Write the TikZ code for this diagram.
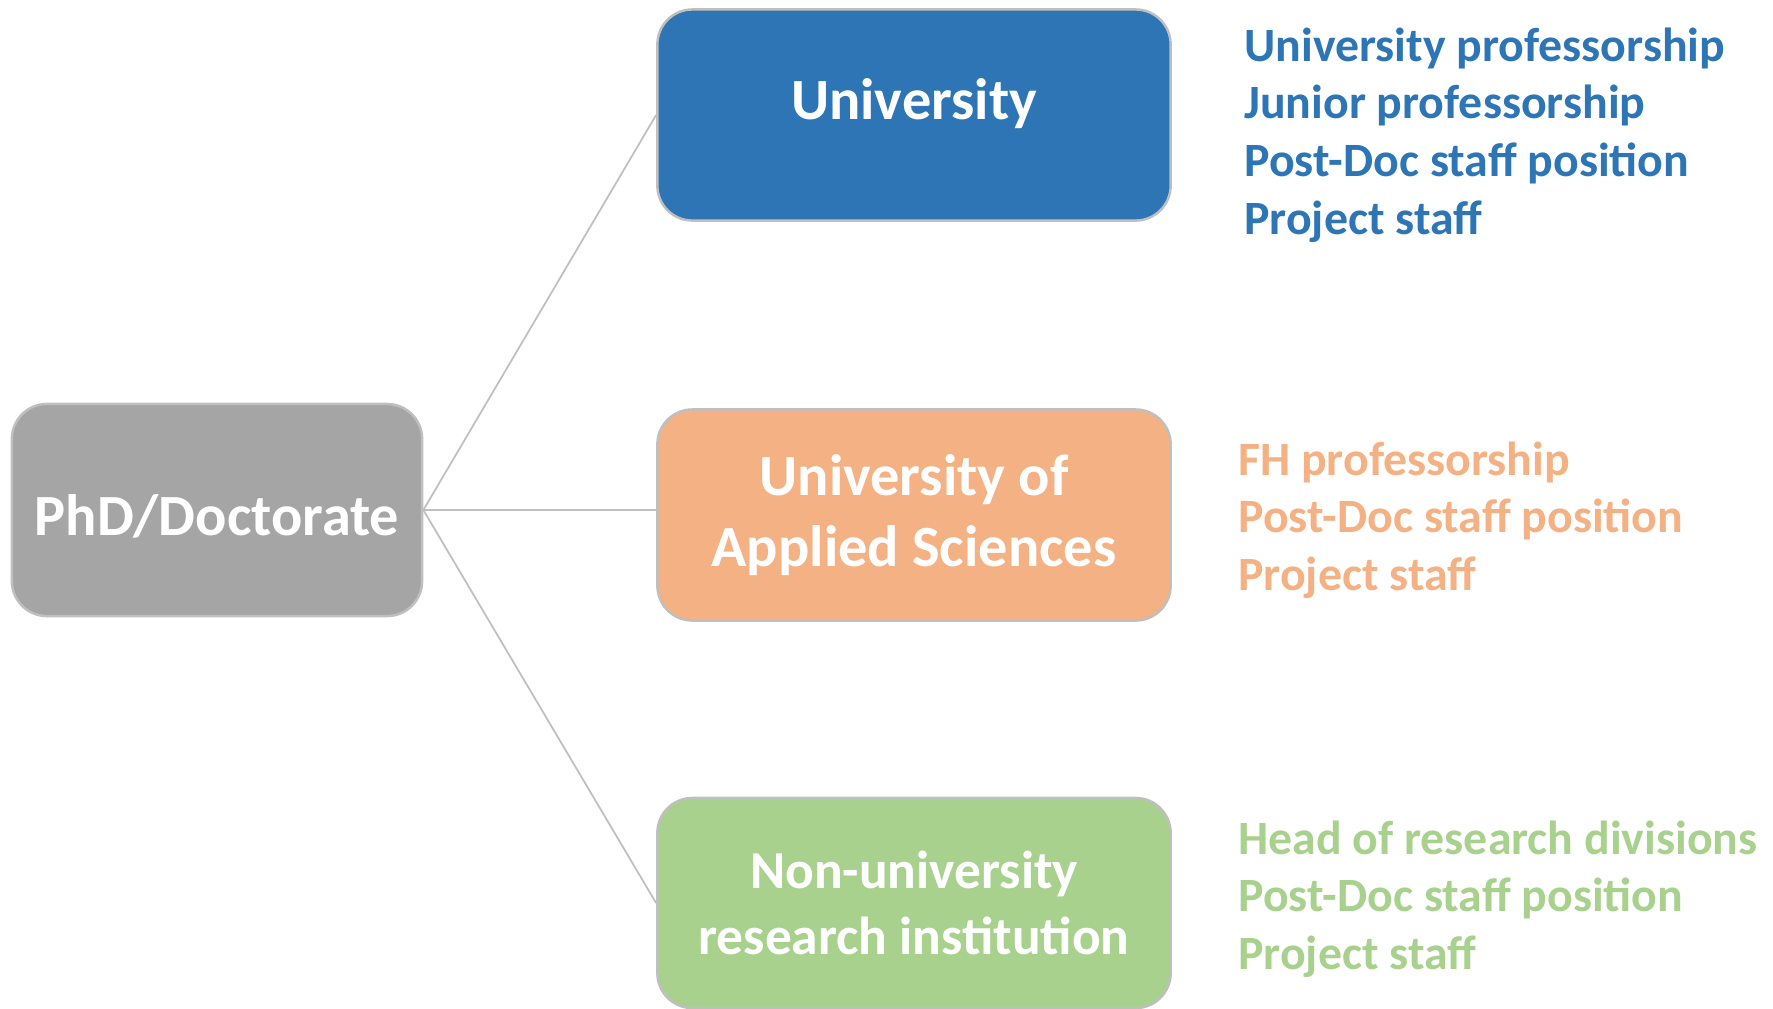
\documentclass[tikz,border=0pt]{standalone}
\usepackage{fontspec}
\setmainfont{Carlito}
\usetikzlibrary{positioning}
\definecolor{uniblue}{HTML}{2E75B6}
\definecolor{fhorange}{HTML}{F4B183}
\definecolor{resgreen}{HTML}{A9D18E}
\definecolor{phdgray}{HTML}{A5A5A5}
\definecolor{edgegray}{HTML}{BFBFBF}

\begin{document}
\begin{tikzpicture}[
    x=0.01cm, y=-0.01cm,
    box/.style={rectangle, draw=edgegray, line width=0.7pt, rounded corners=0.35cm, minimum width=5.13cm, minimum height=2.11cm, align=center, text=white, font=\fontsize{16.6}{20}\selectfont\bfseries},
    phdbox/.style={box, fill=phdgray, minimum width=4.1cm, minimum height=2.12cm},
    list/.style={align=left, font=\fontsize{13.6}{16.4}\selectfont\bfseries},
    link/.style={draw=edgegray, line width=0.5pt}
]
\useasboundingbox (0,0) rectangle (1773,1008);
\node[phdbox, text height=0.53cm] (phd) at (217,510) {PhD/Doctorate};
\node[box, fill=uniblue, text depth=0.32cm] (uni) at (914,115) {University};
\node[box, fill=fhorange] (fh) at (914,515) {University of\\Applied Sciences};
\node[box, fill=resgreen, minimum height=2.1cm, font=\fontsize{15.2}{18.6}\selectfont\bfseries] (res) at (914,903) {Non-university\\research institution};
\node[list, text=uniblue, right=0.6cm of uni, yshift=-0.2cm] (unilist) {University professorship\\Junior professorship\\Post-Doc staff position\\Project staff};
\node[list, text=fhorange, right=0.54cm of fh, yshift=-0.05cm] (fhlist) {FH professorship\\Post-Doc staff position\\Project staff};
\node[list, text=resgreen, right=0.54cm of res, yshift=0.04cm] (reslist) {Head of research divisions\\Post-Doc staff position\\Project staff};
\draw[link] (phd.east) -- (uni.west);
\draw[link] (phd.east) -- (phd.east -| fh.west);
\draw[link] (phd.east) -- (res.west);
\end{tikzpicture}
\end{document}
